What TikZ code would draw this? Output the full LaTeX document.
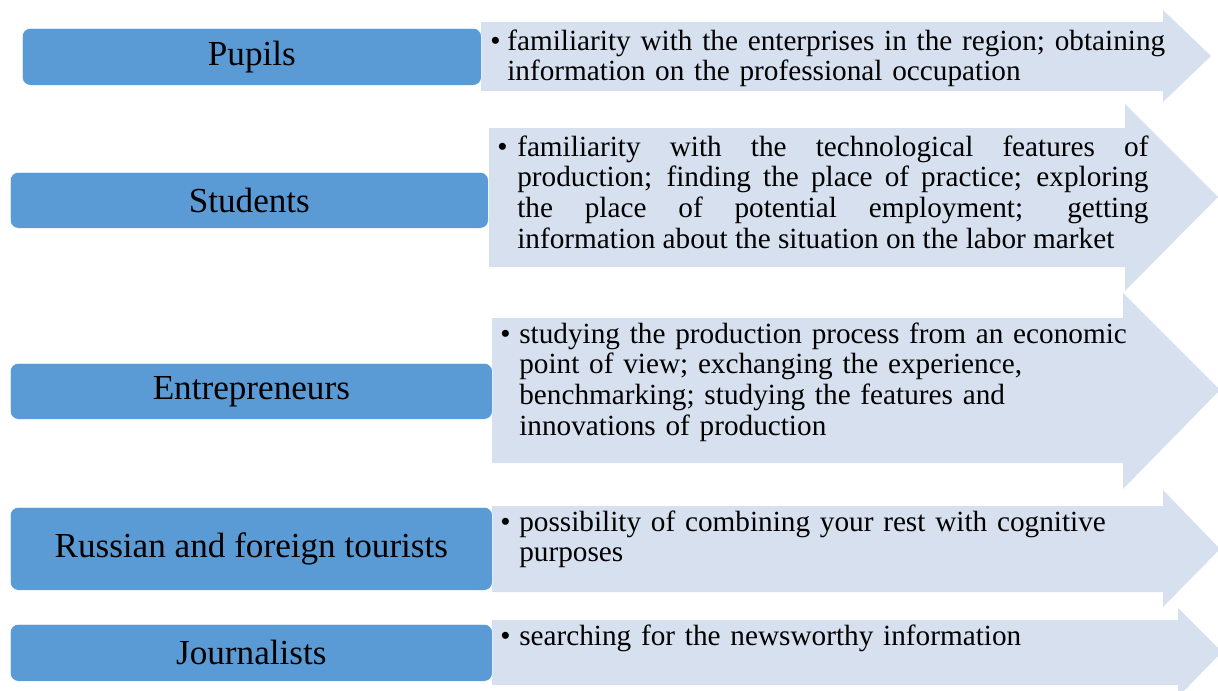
\documentclass[tikz,border=0pt]{standalone}
\usepackage{fontspec}
\setmainfont{Liberation Serif}
\usepackage{tikz}
\definecolor{groupblue}{RGB}{91,155,213}
\definecolor{bandblue}{RGB}{214,224,239}

\begin{document}
\begin{tikzpicture}[x=0.025cm,y=-0.025cm]
		\tikzstyle{group}=[rectangle, rounded corners=0.2cm, fill=groupblue, draw=white, thin, inner sep=0pt, anchor=north west, font=\fontsize{25}{28}\selectfont]
		\tikzstyle{band}=[fill=bandblue]
		\tikzstyle{aims}=[anchor=base west, inner sep=0pt, font=\fontsize{20.8}{22}\selectfont]

		\useasboundingbox (0,0) rectangle (1218,691);

		% arrows behind the text
		\fill [band] (481,22) -- (1163,22) -- (1163,10) -- (1211,56) -- (1163,102) -- (1163,91) -- (481,91) -- cycle;
		\fill [band] (489,128) -- (1125,128) -- (1125,104) -- (1218,197) -- (1125,291) -- (1125,267) -- (489,267) -- cycle;
		\fill [band] (492,318) -- (1123,318) -- (1123,293) -- (1220,390) -- (1123,489) -- (1123,463) -- (492,463) -- cycle;
		\fill [band] (492,506) -- (1163,506) -- (1163,490) -- (1220,549) -- (1163,607) -- (1163,592) -- (492,592) -- cycle;
		\fill [band] (492,620) -- (1178,620) -- (1178,608) -- (1222,652) -- (1178,697) -- (1178,685) -- (492,685) -- cycle;

		% groups
		\node [group, minimum width=11.475cm, minimum height=1.425cm] (pupils) at (22,28) {Pupils};
		\node [group, minimum width=11.95cm, minimum height=1.4cm] (students) at (10,172) {Students};
		\node [group, minimum width=12.05cm, minimum height=1.4cm] (entrepreneurs) at (10,363) {Entrepreneurs};
		\node [group, minimum width=12.05cm, minimum height=2.075cm] (tourists) at (10,507) {Russian and foreign tourists};
		\node [group, minimum width=12.05cm, minimum height=1.425cm] (journalists) at (10,624) {Journalists};

		% what each group gets
		\node [aims, text width=18cm] (pupilsaims) at (490,50)
		{\raggedright\hangindent=0.425cm\hangafter=1\noindent\makebox[0.425cm][l]{\textbullet}familiarity with the enterprises in the region; obtaining\newline information on the professional occupation\par};
		\node [aims, align=justify, text width=16.275cm] (studentsaims) at (497,156)
		{\hangindent=0.5cm\hangafter=1\noindent\makebox[0.5cm][l]{\textbullet}familiarity with the technological features of\linebreak production; finding the place of practice; exploring\linebreak the place of potential employment; getting\linebreak information about the situation on the labor market\par};
		\node [aims, text width=17cm] (entrepreneursaims) at (500,343)
		{\raggedright\hangindent=0.475cm\hangafter=1\noindent\makebox[0.475cm][l]{\textbullet}studying the production process from an economic\newline point of view; exchanging the experience,\newline benchmarking; studying the features and\newline innovations of production\par};
		\node [aims, text width=17cm] (touristsaims) at (500,531)
		{\raggedright\hangindent=0.475cm\hangafter=1\noindent\makebox[0.475cm][l]{\textbullet}possibility of combining your rest with cognitive\newline purposes\par};
		\node [aims, text width=17cm] (journalistsaims) at (500,645)
		{\raggedright\hangindent=0.475cm\hangafter=1\noindent\makebox[0.475cm][l]{\textbullet}searching for the newsworthy information\par};
	\end{tikzpicture}
\end{document}
